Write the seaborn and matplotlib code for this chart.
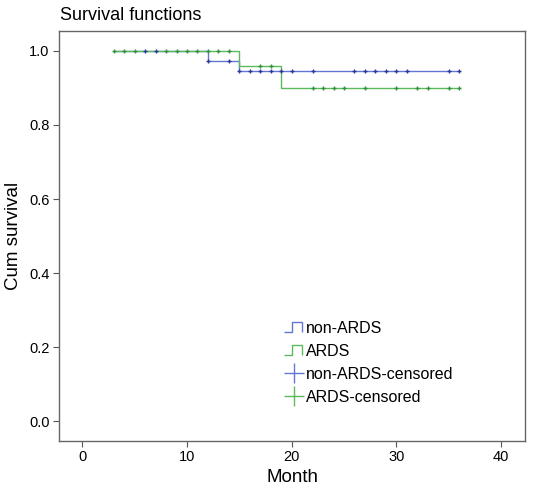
import matplotlib
matplotlib.use("Agg")
import matplotlib.pyplot as plt
import numpy as np
import pandas as pd
import seaborn as sns
from matplotlib.lines import Line2D
from matplotlib.path import Path

# step curves: time where survival changes, and survival from that time on
nonards_time = [3, 12, 15, 36]
nonards_surv = [1.0, 0.974, 0.947, 0.947]
ards_time = [3, 15, 19, 36]
ards_surv = [1.0, 0.960, 0.900, 0.900]

# censored observations (months)
nonards_cens = [6, 7, 12, 14, 15, 16, 17, 18, 19, 20, 22, 26, 27, 28, 29, 30, 31, 35, 36]
ards_cens = [3, 4, 5, 8, 9, 10, 11, 12, 13, 14, 17, 18, 22, 23, 24, 25, 27, 30, 32, 33, 35, 36]

groups = ["non-ARDS", "ARDS"]
line_colors = {"non-ARDS": "#6276d3", "ARDS": "#5cba5c"}
cens_colors = {"non-ARDS": "#2c3a94", "ARDS": "#36913f"}


def surv_at(times, surv, t):
    """Value of the step function (post) at time t."""
    idx = np.searchsorted(times, t, side="right") - 1
    return surv[idx]


curves = pd.concat([
    pd.DataFrame({"month": nonards_time, "surv": nonards_surv, "group": "non-ARDS"}),
    pd.DataFrame({"month": ards_time, "surv": ards_surv, "group": "ARDS"}),
])
cens = pd.concat([
    pd.DataFrame({"month": nonards_cens,
                  "surv": [surv_at(nonards_time, nonards_surv, t) for t in nonards_cens],
                  "group": "non-ARDS"}),
    pd.DataFrame({"month": ards_cens,
                  "surv": [surv_at(ards_time, ards_surv, t) for t in ards_cens],
                  "group": "ARDS"}),
])

sns.set_style("white")
plt.rcParams["font.family"] = ["Liberation Sans", "DejaVu Sans"]
plt.rcParams["text.color"] = "black"
plt.rcParams["axes.labelcolor"] = "black"
plt.rcParams["xtick.color"] = "black"
plt.rcParams["ytick.color"] = "black"

fig = plt.figure(figsize=(5.36, 4.95), dpi=100)
ax = fig.add_axes([0.1107, 0.1097, 0.9795 - 0.1107, 0.9374 - 0.1097])

sns.lineplot(data=curves, x="month", y="surv", hue="group", palette=line_colors,
             drawstyle="steps-post", linewidth=1.0, legend=False, ax=ax,
             estimator=None, sort=False)
for g in groups:
    sub = cens[cens["group"] == g]
    ax.plot(sub["month"], sub["surv"], linestyle="none", marker="+",
            markersize=3, markeredgewidth=1.0, color=cens_colors[g])

ax.set_xlim(-2.2, 42.3)
ax.set_ylim(-0.053, 1.054)
ax.set_xticks([0, 10, 20, 30, 40])
ax.set_yticks([0.0, 0.2, 0.4, 0.6, 0.8, 1.0])
ax.set_yticklabels(["0.0", "0.2", "0.4", "0.6", "0.8", "1.0"])
ax.tick_params(axis="both", labelsize=10.5, length=4, width=0.8,
               color="#555555", labelcolor="black", direction="out",
               bottom=True, left=True, pad=3)
for sp in ax.spines.values():
    sp.set_color("#666666")
    sp.set_linewidth(1.0)
ax.set_xlabel("Month", fontsize=13.5, labelpad=3)
ax.set_ylabel("Cum survival", fontsize=13.5, labelpad=5)
fig.text(60 / 536, 1 - 16 / 495, "Survival functions", fontsize=13,
         ha="left", va="center")

# legend with step glyphs for the curves
step_marker = Path([(-1, -0.5), (-0.15, -0.5), (-0.15, 0.5), (0.75, 0.5), (0.75, -0.5)],
                   [Path.MOVETO, Path.LINETO, Path.LINETO, Path.LINETO, Path.LINETO])
handles = [
    Line2D([], [], linestyle="none", marker=step_marker, markersize=15,
           markerfacecolor="none", markeredgecolor=line_colors["non-ARDS"], markeredgewidth=1.0),
    Line2D([], [], linestyle="none", marker=step_marker, markersize=15,
           markerfacecolor="none", markeredgecolor=line_colors["ARDS"], markeredgewidth=1.0),
    Line2D([], [], linestyle="none", marker="+", markersize=14,
           markeredgecolor=line_colors["non-ARDS"], markeredgewidth=1.0),
    Line2D([], [], linestyle="none", marker="+", markersize=14,
           markeredgecolor=line_colors["ARDS"], markeredgewidth=1.0),
]
labels = ["non-ARDS", "ARDS", "non-ARDS-censored", "ARDS-censored"]
fig.legend(handles, labels, loc="upper left", bbox_to_anchor=(284 / 536, 1 - 321 / 495),
           frameon=False, fontsize=11.5, handlelength=1.2, handletextpad=0.2,
           labelspacing=0.5, borderpad=0, borderaxespad=0)

fig.savefig("out.png", dpi=100)
plt.close(fig)
